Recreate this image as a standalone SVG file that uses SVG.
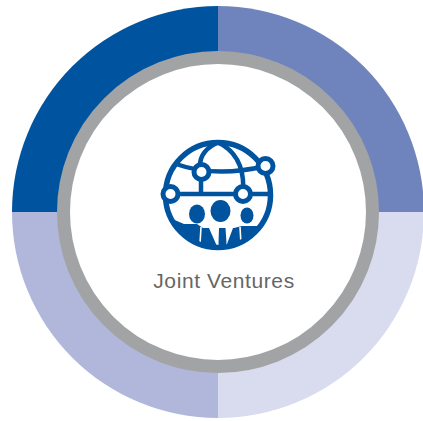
<svg xmlns="http://www.w3.org/2000/svg" width="423" height="421" viewBox="0 0 423 421">
<style>
.blue{fill:#00549f}
.wh{fill:#fff}
.ln{fill:none;stroke:#00549f;stroke-width:4.500}
.sl{fill:none;stroke:#fff;stroke-width:1.600}
.nd{fill:#fff;stroke:#00549f;stroke-width:5}
.lbl{font-family:"Liberation Sans",Arial,sans-serif;font-size:21px;letter-spacing:.6px;fill:#666;text-anchor:middle}
</style>
<defs><clipPath id="globeClip"><circle cx="218" cy="195" r="54"/></clipPath></defs>
<rect width="423" height="421" fill="#fff"/>
<g id="ring">
<path fill="#00549f" d="M218 212V6A206 206 0 0 0 12 212Z"/>
<path fill="#6f84bc" d="M218 212V6A206 206 0 0 1 424 212Z"/>
<path fill="#d9dcef" d="M218 212H424A206 206 0 0 1 218 418Z"/>
<path fill="#b0b7da" d="M218 212V418A206 206 0 0 1 12 212Z"/>
<circle cx="218" cy="212" r="154.500" fill="#fff" stroke="#a2a3a5" stroke-width="13"/>
</g>
<g id="icon">
<g clip-path="url(#globeClip)">
<path class="ln" d="M165 194H270"/>
<path class="ln" d="M176 164Q215 178 266 166"/>
<path class="ln" d="M219 142Q196 152 201 172V194"/>
<path class="ln" d="M217 142Q246 155 243 194"/>
<ellipse class="blue" cx="197" cy="214" rx="8" ry="9.500"/>
<ellipse class="blue" cx="220.500" cy="211" rx="10" ry="11"/>
<ellipse class="blue" cx="247" cy="215.500" rx="6.500" ry="8"/>
<path class="blue" d="M170 252V218L184 224H197L203 228H234L242 226H258L268 218V252Z"/>
<path class="wh" d="M209 228H219L218.500 243L219.500 252Z"/>
<path class="wh" d="M225.500 228H233L224 252L226.500 243Z"/>
<path class="sl" d="M201 227L200 244M240 227L241 244"/>
</g>
<circle cx="218" cy="195" r="52.500" fill="none" stroke="#00549f" stroke-width="5.500"/>
<circle class="nd" cx="170.500" cy="194" r="7.500"/>
<circle class="nd" cx="201.500" cy="172" r="7.500"/>
<circle class="nd" cx="243" cy="194" r="7.500"/>
<circle class="nd" cx="265.500" cy="166" r="7.500"/>
</g>
<g id="label"><text class="lbl" x="224" y="288">Joint Ventures</text></g>
</svg>
